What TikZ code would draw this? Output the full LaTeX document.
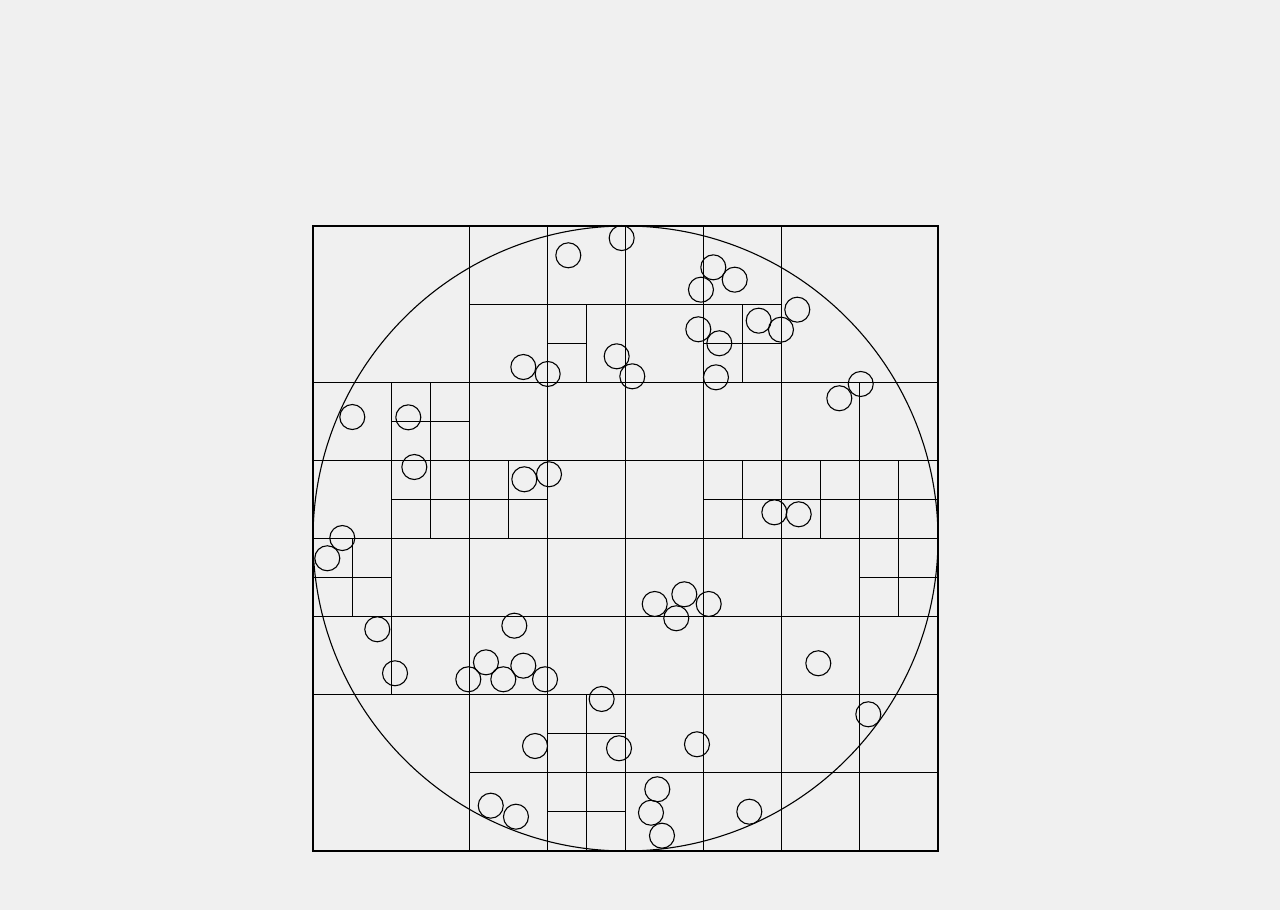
\documentclass[tikz,border=0pt]{standalone}
\usepackage{tikz}
\usepackage{xcolor}
\definecolor{bgpaper}{HTML}{F0F0F0}

\begin{document}
\begin{tikzpicture}[x=1cm,y=-1cm,line width=0.4pt]
\useasboundingbox[fill=bgpaper] (-4.0064,-2.8928) rectangle (12.3776,8.7552);
% outer cell and whole grid lines
\draw (0,0) rectangle (8,8);
\foreach \k in {2,3,4,5,6} \draw (0,\k) -- (8,\k);
\foreach \k in {2,3,4,5,6} \draw (\k,0) -- (\k,8);
\draw (2,1) -- (6,1);
\draw (2,7) -- (8,7);
\draw (1,2) -- (1,6);
\draw (7,2) -- (7,8);
% half cells
\draw (3,1.5) -- (3.5,1.5);
\draw (5,1.5) -- (6,1.5);
\draw (3.5,1) -- (3.5,2);
\draw (3.5,6) -- (3.5,8);
\draw (5.5,1) -- (5.5,2);
\draw (5.5,3) -- (5.5,4);
\draw (1.5,2) -- (1.5,4);
\draw (1,2.5) -- (2,2.5);
\draw (1,3.5) -- (3,3.5);
\draw (5,3.5) -- (8,3.5);
\draw (2.5,3) -- (2.5,4);
\draw (6.5,3) -- (6.5,4);
\draw (7.5,3) -- (7.5,5);
\draw (0,4.5) -- (1,4.5);
\draw (7,4.5) -- (8,4.5);
\draw (0.5,4) -- (0.5,5);
\draw (3,6.5) -- (4,6.5);
\draw (3,7.5) -- (4,7.5);
% disc
\draw (4,4) circle (4);
% points
\foreach \px/\py in {3.951/0.154, 3.268/0.375, 5.124/0.529, 5.398/0.687, 4.966/0.815,
  6.199/1.071, 5.705/1.212, 5.990/1.327, 4.932/1.322, 5.201/1.501,
  3.887/1.668, 2.692/1.805, 3.004/1.894, 4.087/1.924, 5.158/1.937,
  7.011/2.022, 6.737/2.205, 0.503/2.445, 1.220/2.449, 1.297/3.085,
  3.021/3.178, 2.705/3.242, 5.905/3.665, 6.217/3.690, 0.375/3.994,
  0.183/4.253, 4.753/4.714, 4.374/4.838, 5.065/4.838, 4.650/5.021,
  2.577/5.116, 0.823/5.162, 6.468/5.597, 2.214/5.585, 2.692/5.628,
  1.050/5.725, 1.988/5.802, 2.436/5.802, 2.970/5.802, 3.695/6.054,
  7.108/6.250, 2.842/6.656, 3.917/6.685, 4.915/6.634, 4.407/7.210,
  2.275/7.420, 4.326/7.510, 2.598/7.561, 5.585/7.497, 4.467/7.804}
  \draw (\px,\py) circle (0.16);
\end{tikzpicture}
\end{document}
